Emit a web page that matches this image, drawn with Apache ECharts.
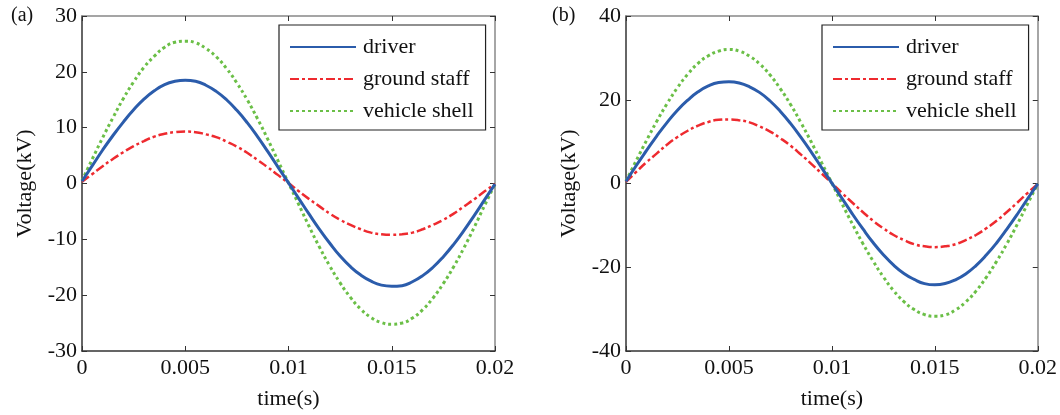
<!DOCTYPE html>
<html>
<head>
<meta charset="utf-8">
<script src="https://cdn.jsdelivr.net/npm/echarts@6/dist/echarts.min.js"></script>
<style>
  html, body { margin: 0; padding: 0; background: #fff; }
  #chart { width: 1060px; height: 415px; }
</style>
</head>
<body>
<div id="chart"></div>
<script>
// time samples (s), step 0.0005
const timeS = [
  0, 0.0005, 0.001, 0.0015, 0.002, 0.0025, 0.003, 0.0035, 0.004, 0.0045,
  0.005, 0.0055, 0.006, 0.0065, 0.007, 0.0075, 0.008, 0.0085, 0.009, 0.0095,
  0.01, 0.0105, 0.011, 0.0115, 0.012, 0.0125, 0.013, 0.0135, 0.014, 0.0145,
  0.015, 0.0155, 0.016, 0.0165, 0.017, 0.0175, 0.018, 0.0185, 0.019, 0.0195, 0.02
];
const xTickLabels = ["0", "0.005", "0.01", "0.015", "0.02"];
const seriesNames = ["driver", "ground staff", "vehicle shell"];

// panel (a)
const driverA = [
  0.4, 3.2, 6.0, 8.6, 11.0, 13.2, 15.1, 16.6, 17.7, 18.3,
  18.5, 18.3, 17.6, 16.5, 15.0, 13.1, 10.9, 8.4, 5.7, 2.9,
  0.1, -2.7, -5.5, -8.2, -10.7, -13.0, -14.9, -16.4, -17.5, -18.2,
  -18.4, -18.3, -17.6, -16.5, -15.0, -13.1, -10.9, -8.4, -5.7, -2.9, -0.1
];
const groundA = [
  0.3, 1.7, 3.1, 4.4, 5.6, 6.7, 7.6, 8.4, 8.9, 9.2,
  9.3, 9.2, 8.8, 8.3, 7.5, 6.6, 5.5, 4.2, 2.9, 1.5,
  0.1, -1.4, -2.8, -4.1, -5.4, -6.5, -7.4, -8.2, -8.8, -9.1,
  -9.2, -9.1, -8.8, -8.2, -7.4, -6.5, -5.4, -4.1, -2.8, -1.4, -0.1
];
const shellA = [
  0.5, 4.4, 8.2, 11.8, 15.2, 18.2, 20.8, 22.8, 24.4, 25.3,
  25.5, 25.2, 24.2, 22.7, 20.6, 18.0, 15.0, 11.6, 7.9, 4.0,
  0.1, -3.8, -7.7, -11.4, -14.8, -17.8, -20.4, -22.5, -24.0, -24.9,
  -25.2, -25.0, -24.1, -22.6, -20.5, -17.9, -14.9, -11.5, -7.8, -3.9, -0.1
];
const yTicksA = { min: -30, max: 30, interval: 10 };

// panel (b)
const driverB = [
  0.5, 4.3, 7.9, 11.4, 14.6, 17.5, 19.9, 21.9, 23.3, 24.1,
  24.3, 24.0, 23.1, 21.7, 19.7, 17.2, 14.3, 11.0, 7.5, 3.8,
  0.1, -3.6, -7.3, -10.8, -14.1, -17.0, -19.5, -21.5, -22.9, -23.9,
  -24.2, -23.9, -23.0, -21.6, -19.6, -17.1, -14.2, -10.9, -7.4, -3.7, -0.1
];
const groundB = [
  0.4, 2.8, 5.1, 7.2, 9.3, 11.1, 12.6, 13.8, 14.7, 15.2,
  15.3, 15.1, 14.6, 13.6, 12.4, 10.8, 9.0, 6.9, 4.7, 2.4,
  0.1, -2.3, -4.6, -6.8, -8.9, -10.7, -12.3, -13.5, -14.5, -15.0,
  -15.2, -15.0, -14.5, -13.5, -12.3, -10.7, -8.9, -6.8, -4.6, -2.3, -0.1
];
const shellB = [
  0.6, 5.5, 10.3, 14.9, 19.1, 22.9, 26.1, 28.7, 30.5, 31.6,
  32.0, 31.6, 30.4, 28.5, 25.9, 22.6, 18.8, 14.5, 9.9, 5.0,
  0.1, -4.9, -9.7, -14.3, -18.5, -22.3, -25.6, -28.2, -30.1, -31.3,
  -31.7, -31.4, -30.2, -28.3, -25.7, -22.4, -18.6, -14.4, -9.8, -4.9, -0.1
];
const yTicksB = { min: -40, max: 40, interval: 20 };

const FONT = "Liberation Serif";
const colors = ["#2b5cab", "#ee2a2f", "#6bbf47"];
const lineTypes = ["solid", [9, 3, 3, 3], [3, 3]];
const lineWidths = [3, 2.5, 3];

const chart = echarts.init(document.getElementById("chart"));

function pair(xs, ys) {
  return xs.map((x, i) => [x, ys[i]]);
}

const panels = [
  { left: 82, width: 413, ticks: yTicksA, data: [driverA, groundA, shellA], tag: "(a)", tagX: 11, legendLeft: 279 },
  { left: 626, width: 412, ticks: yTicksB, data: [driverB, groundB, shellB], tag: "(b)", tagX: 552, legendLeft: 822 }
];

const grid = [], xAxis = [], yAxis = [], series = [], legend = [], graphic = [];

panels.forEach((p, k) => {
  grid.push({ left: p.left, width: p.width, top: 16, height: 337 });
  // main bottom axis
  xAxis.push({
    type: "value", gridIndex: k, min: 0, max: 0.02, interval: 0.005,
    name: "time(s)", nameLocation: "middle", nameGap: 37,
    nameTextStyle: { fontFamily: FONT, fontSize: 22, color: "#111" },
    axisLine: { onZero: false, lineStyle: { color: "#333", width: 1.5 } },
    axisTick: { inside: true, length: 5, lineStyle: { color: "#333" } },
    axisLabel: {
      fontFamily: FONT, fontSize: 22, color: "#111", margin: 6,
      formatter: (v) => xTickLabels[Math.round(v / 0.005)]
    },
    splitLine: { show: false }
  });
  // mirror top axis
  xAxis.push({
    type: "value", gridIndex: k, position: "top", min: 0, max: 0.02, interval: 0.005,
    axisLine: { onZero: false, lineStyle: { color: "#888", width: 1.5 } },
    axisTick: { inside: true, length: 5, lineStyle: { color: "#333" } },
    axisLabel: { show: false }, splitLine: { show: false }
  });
  yAxis.push({
    type: "value", gridIndex: k, min: p.ticks.min, max: p.ticks.max, interval: p.ticks.interval,
    name: "Voltage(kV)", nameLocation: "middle", nameGap: 46,
    nameTextStyle: { fontFamily: FONT, fontSize: 22, color: "#111" },
    axisLine: { onZero: false, lineStyle: { color: "#333", width: 1.5 } },
    axisTick: { inside: true, length: 5, lineStyle: { color: "#333" } },
    axisLabel: { fontFamily: FONT, fontSize: 22, color: "#111", margin: 5 },
    splitLine: { show: false }
  });
  yAxis.push({
    type: "value", gridIndex: k, position: "right", min: p.ticks.min, max: p.ticks.max, interval: p.ticks.interval,
    axisLine: { show: true, onZero: false, lineStyle: { color: "#888", width: 1.5 } },
    axisTick: { inside: true, length: 5, lineStyle: { color: "#333" } },
    axisLabel: { show: false }, splitLine: { show: false }
  });

  seriesNames.forEach((name, i) => {
    series.push({
      name: name, type: "line",
      xAxisIndex: 2 * k, yAxisIndex: 2 * k,
      data: pair(timeS, p.data[i]),
      smooth: true, symbol: "none",
      lineStyle: { color: colors[i], width: lineWidths[i], type: lineTypes[i] },
      itemStyle: { color: colors[i] },
      z: 3 - i
    });
  });

  legend.push({
    data: seriesNames, orient: "vertical",
    left: p.legendLeft, top: 25,
    itemWidth: 66, itemHeight: 14, itemGap: 10,
    padding: [11, 12, 8, 10],
    borderColor: "#222", borderWidth: 1.2, borderRadius: 0,
    backgroundColor: "#fff",
    selectedMode: false,
    itemStyle: { color: "transparent", borderWidth: 0 },
    textStyle: { fontFamily: FONT, fontSize: 22, color: "#111", padding: [0, 0, 0, 2] }
  });

  graphic.push({
    type: "text", left: p.tagX, top: 6,
    style: { text: p.tag, font: "20px " + FONT, fill: "#111" }
  });
});

chart.setOption({
  animation: false,
  backgroundColor: "#fff",
  grid: grid,
  xAxis: xAxis,
  yAxis: yAxis,
  legend: legend,
  series: series,
  graphic: graphic
});
</script>
</body>
</html>
